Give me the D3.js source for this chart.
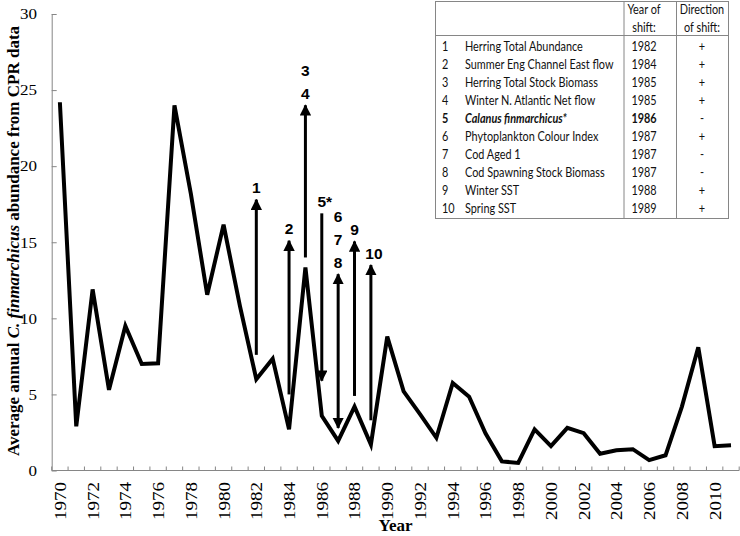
<!DOCTYPE html>
<html><head><meta charset="utf-8">
<script src="https://cdn.jsdelivr.net/npm/d3@7"></script>
<style>body{margin:0;background:#fff}svg{display:block}</style>
</head><body>
<svg id="c" width="740" height="536"></svg>
<script>
// ---- data ----
const years = d3.range(1970, 2012);
const abundance = [24.2, 2.9, 11.9, 5.3, 9.5, 7.0, 7.05, 24.0, 18.2, 11.55, 16.15, 10.8, 6.0, 7.35, 2.7, 13.35, 3.6, 1.95, 4.2, 1.7,
  8.8, 5.2, 3.7, 2.15, 5.75, 4.85, 2.45, 0.6, 0.5, 2.7, 1.6, 2.8, 2.45, 1.1, 1.33, 1.4, 0.68, 1.0, 4.2, 8.1, 1.6, 1.66];
const yTicks = [0, 5, 10, 15, 20, 25, 30];
const xTickLabels = d3.range(1970, 2011, 2);

// shift arrows
const arrowYears = [1982, 1984, 1985, 1986, 1987, 1988, 1989];
const arrowFrom  = [7.6, 5.0, 14.0, 16.9, 2.8, 4.9, 3.3];
const arrowTo    = [17.8, 15.1, 24.0, 5.9, 12.9, 15.05, 13.5];
const arrowBoth  = [false, false, false, false, true, false, false];
const arrowLabels = [["1"], ["2"], ["3", "4"], ["5*"], ["6", "7", "8"], ["9"], ["10"]];

// table
const tableNum = ["1","2","3","4","5","6","7","8","9","10"];
const tableName = ["Herring Total Abundance","Summer Eng Channel East flow","Herring Total Stock Biomass","Winter N. Atlantic Net flow",
  "Calanus finmarchicus*","Phytoplankton Colour Index","Cod Aged 1","Cod Spawning Stock Biomass","Winter SST","Spring SST"];
const tableYear = ["1982","1984","1985","1985","1986","1987","1987","1987","1988","1989"];
const tableDir = ["+","+","+","+","-","+","-","-","+","+"];

// ---- drawing ----
const svg = d3.select("#c");
const x = d3.scaleBand().domain(years).range([51.7, 739.2]).padding(0);
const y = d3.scaleLinear().domain([0, 30]).range([470.5, 14]);
const cx = d => x(d) + x.bandwidth() / 2;
const axisColor = "#868686";
const serif = "'Liberation Serif','Times New Roman',serif";
const sans = "'Liberation Sans',Arial,sans-serif";

// y axis
const yAxis = svg.append("g").attr("transform", "translate(51.7,0)")
  .call(d3.axisRight(y).tickValues(yTicks).tickSize(5).tickFormat(""));
yAxis.select(".domain").attr("stroke", axisColor).attr("d", `M0.5,${y(30)}V${y(0)}`);
yAxis.selectAll(".tick line").attr("stroke", axisColor);
svg.append("g").selectAll("text").data(yTicks).join("text")
  .attr("x", 37).attr("y", d => y(d)).attr("dy", "0.35em")
  .attr("text-anchor", "end").attr("font-family", serif).attr("font-size", 15)
  .attr("textLength", d => d >= 10 ? 17 : 8.5).attr("lengthAdjust", "spacingAndGlyphs")
  .text(d => d);

// x axis
svg.append("line").attr("x1", 51.7).attr("x2", 739.2).attr("y1", y(0)).attr("y2", y(0)).attr("stroke", axisColor);
svg.append("g").selectAll("line").data(years.concat([2012])).join("line")
  .attr("x1", d => d === 2012 ? x(2011) + x.bandwidth() : x(d)).attr("x2", d => d === 2012 ? x(2011) + x.bandwidth() : x(d))
  .attr("y1", y(0)).attr("y2", y(0) - 4).attr("stroke", axisColor);
svg.append("g").selectAll("text").data(xTickLabels).join("text")
  .attr("transform", d => `translate(${cx(d)},482) rotate(-90)`)
  .attr("dy", "0.35em").attr("text-anchor", "end")
  .attr("font-family", serif).attr("font-size", 17)
  .attr("textLength", 38).attr("lengthAdjust", "spacingAndGlyphs")
  .text(d => d);

// axis titles
svg.append("text").attr("x", 395.5).attr("y", 531).attr("text-anchor", "middle")
  .attr("font-family", serif).attr("font-weight", "bold").attr("font-size", 17).text("Year");
const yl = svg.append("text").attr("transform", "translate(19,241) rotate(-90)").attr("text-anchor", "middle")
  .attr("font-family", serif).attr("font-weight", "bold").attr("font-size", 17);
yl.append("tspan").text("Average annual ");
yl.append("tspan").attr("font-style", "italic").text("C. finmarchicus");
yl.append("tspan").text(" abundance from CPR data");

// data line
svg.append("path").datum(abundance)
  .attr("d", d3.line().x((d, i) => cx(years[i])).y(d => y(d)))
  .attr("fill", "none").attr("stroke", "#000").attr("stroke-width", 4).attr("stroke-linejoin", "miter");

// arrows
const defs = svg.append("defs");
defs.append("marker").attr("id", "ah").attr("viewBox", "0 0 10 10").attr("refX", 9).attr("refY", 5)
  .attr("markerWidth", 3.8).attr("markerHeight", 3.8).attr("markerUnits", "strokeWidth").attr("orient", "auto-start-reverse")
  .append("path").attr("d", "M0,0L10,5L0,10Z").attr("fill", "#000");
const ag = svg.append("g");
arrowYears.forEach((yr, i) => {
  const l = ag.append("line").attr("x1", cx(yr)).attr("x2", cx(yr))
    .attr("y1", y(arrowFrom[i])).attr("y2", y(arrowTo[i]))
    .attr("stroke", "#000").attr("stroke-width", 3).attr("marker-end", "url(#ah)");
  if (arrowBoth[i]) l.attr("marker-start", "url(#ah)");
  const topY = Math.min(y(arrowFrom[i]), y(arrowTo[i]));
  const labs = arrowLabels[i];
  labs.forEach((t, j) => {
    ag.append("text").attr("x", cx(yr) + (t.length > 1 ? 3 : 0))
      .attr("y", topY - 12 - (labs.length - 1 - j) * 23).attr("dy", "0.35em")
      .attr("text-anchor", "middle").attr("font-family", sans).attr("font-weight", "bold").attr("font-size", 15.5)
      .text(t);
  });
});

// table
const T = {x0: 435.5, x1: 624, x2: 676.5, x3: 728.5, y0: 1.5, yh: 35.5, y1: 218.5, row0: 47, rowH: 17.9};
const tg = svg.append("g");
tg.append("rect").attr("x", T.x0).attr("y", T.y0).attr("width", T.x3 - T.x0).attr("height", T.y1 - T.y0)
  .attr("fill", "#fff").attr("stroke", axisColor);
[T.x1, T.x2].forEach(v => tg.append("line").attr("x1", v).attr("x2", v).attr("y1", T.y0).attr("y2", T.y1).attr("stroke", axisColor));
tg.append("line").attr("x1", T.x0).attr("x2", T.x3).attr("y1", T.yh).attr("y2", T.yh).attr("stroke", axisColor);
const tf = {family: "Lato,'Liberation Sans',sans-serif", size: 12.8, sx: 0.85};
function tt(xp, yp, txt, anchor) {
  return tg.append("text").attr("transform", `translate(${xp},${yp}) scale(${tf.sx},1)`)
    .attr("dy", "0.35em").attr("text-anchor", anchor || "start")
    .attr("font-family", tf.family).attr("font-size", tf.size).attr("fill", "#111").text(txt);
}
const yc = 644, dc = 702;
tt(yc, 10, "Year of", "middle");
tt(yc, 28, "shift:", "middle");
tt(dc, 10, "Direction", "middle");
tt(dc, 28, "of shift:", "middle");
tableNum.forEach((n, i) => {
  const ry = T.row0 + i * T.rowH;
  const bold = i === 4;
  const a = tt(442, ry, n);
  const b = tt(465, ry, tableName[i]);
  const c = tt(yc, ry, tableYear[i], "middle");
  const d = tt(dc, ry, tableDir[i], "middle");
  if (bold) { [a, b, c].forEach(s => s.attr("font-weight", "bold")); b.attr("font-style", "italic"); }
});
</script>
</body></html>
